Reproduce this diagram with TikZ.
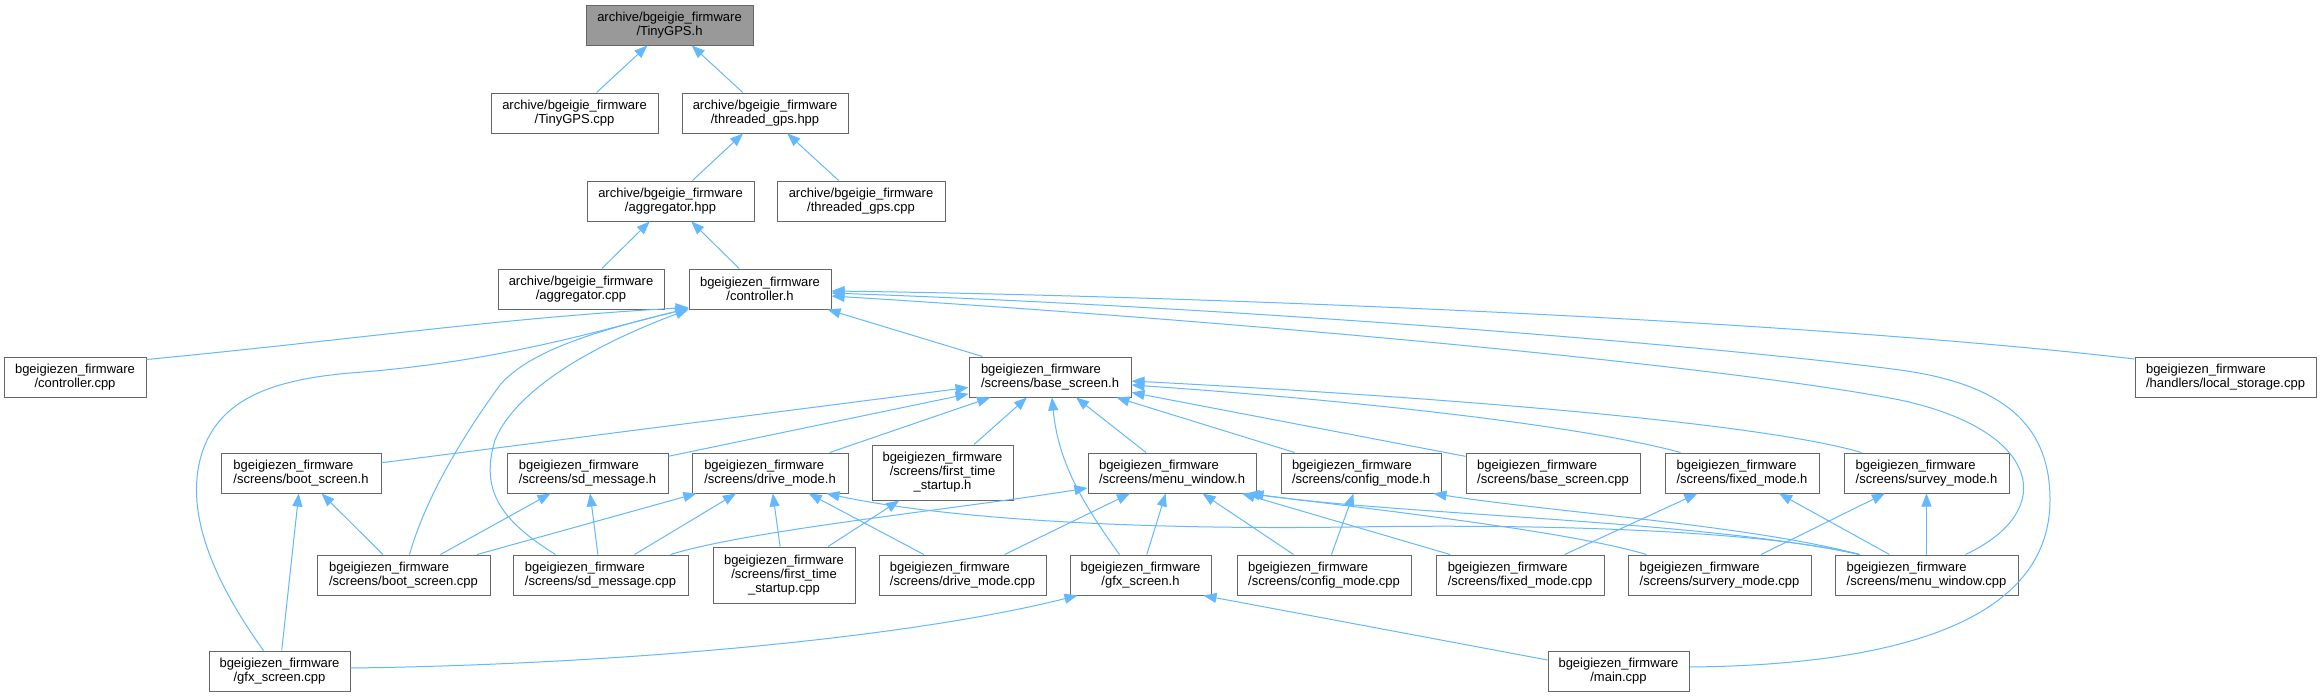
\documentclass[tikz,border=0pt]{standalone}
\usepackage{fontspec}
\setmainfont{Liberation Sans}
\usepackage{tikz}
\usetikzlibrary{arrows.meta}
\usetikzlibrary{calc}

\definecolor{edgeblue}{RGB}{99,184,255}
\definecolor{boxgray}{RGB}{102,102,102}
\definecolor{rootgray}{RGB}{153,153,153}

\begin{document}
\begin{tikzpicture}[x=1pt, y=-1pt,
    filebox/.style={draw=boxgray, line width=1pt, fill=white, inner sep=2pt,
        minimum height=40pt, font=\fontsize{13}{14}\selectfont, align=center},
    leftbox/.style={filebox, align=left},
    rootbox/.style={filebox, fill=rootgray},
    dep/.style={draw=edgeblue, line width=1pt, {Triangle[length=13pt,width=10pt]}-}]

    \fill[white] (0,0) rectangle (2321,696);
    \useasboundingbox (0,0) rectangle (2321,696);

    % archive files
    \node[rootbox, minimum width=167pt] (tinyh) at (669.5,25) {archive/bgeigie\_firmware\\/TinyGPS.h};
    \node[filebox, minimum width=167pt] (tinycpp) at (574.5,113) {archive/bgeigie\_firmware\\/TinyGPS.cpp};
    \node[filebox, minimum width=166pt] (gpshpp) at (765,113) {archive/bgeigie\_firmware\\/threaded\_gps.hpp};
    \node[filebox, minimum width=167pt] (agghpp) at (670.5,201) {archive/bgeigie\_firmware\\/aggregator.hpp};
    \node[filebox, minimum width=168pt] (gpscpp) at (861,201) {archive/bgeigie\_firmware\\/threaded\_gps.cpp};
    \node[filebox, minimum width=166pt] (aggcpp) at (581,289) {archive/bgeigie\_firmware\\/aggregator.cpp};

    % controller level
    \node[filebox, minimum width=142pt] (ctrlh) at (760,289) {bgeigiezen\_firmware\\/controller.h};
    \node[filebox, minimum width=142pt] (ctrlcpp) at (75,377) {bgeigiezen\_firmware\\/controller.cpp};
    \node[leftbox, minimum width=162pt] (baseh) at (1050,377) {bgeigiezen\_firmware\\/screens/base\_screen.h};
    \node[leftbox, minimum width=181pt] (storage) at (2225.5,377) {bgeigiezen\_firmware\\/handlers/local\_storage.cpp};

    % screen headers
    \node[leftbox, minimum width=160pt] (booth) at (301,473) {bgeigiezen\_firmware\\/screens/boot\_screen.h};
    \node[leftbox, minimum width=161pt] (sdh) at (587.5,473) {bgeigiezen\_firmware\\/screens/sd\_message.h};
    \node[leftbox, minimum width=156pt] (driveh) at (770,473) {bgeigiezen\_firmware\\/screens/drive\_mode.h};
    \node[filebox, minimum width=141pt, minimum height=55pt] (firsth) at (942.5,472.5) {bgeigiezen\_firmware\\/screens/first\_time\\\_startup.h};
    \node[leftbox, minimum width=168pt] (menuh) at (1172,473) {bgeigiezen\_firmware\\/screens/menu\_window.h};
    \node[leftbox, minimum width=160pt] (configh) at (1361,473) {bgeigiezen\_firmware\\/screens/config\_mode.h};
    \node[leftbox, minimum width=174pt] (basecpp) at (1553,473) {bgeigiezen\_firmware\\/screens/base\_screen.cpp};
    \node[leftbox, minimum width=154pt] (fixedh) at (1742,473) {bgeigiezen\_firmware\\/screens/fixed\_mode.h};
    \node[leftbox, minimum width=165pt] (surveyh) at (1926.5,473) {bgeigiezen\_firmware\\/screens/survey\_mode.h};

    % screen sources
    \node[leftbox, minimum width=173pt] (bootcpp) at (403.5,575) {bgeigiezen\_firmware\\/screens/boot\_screen.cpp};
    \node[leftbox, minimum width=175pt] (sdcpp) at (600.5,575) {bgeigiezen\_firmware\\/screens/sd\_message.cpp};
    \node[filebox, minimum width=142pt, minimum height=56pt] (firstcpp) at (784,575) {bgeigiezen\_firmware\\/screens/first\_time\\\_startup.cpp};
    \node[leftbox, minimum width=167pt] (drivecpp) at (962.5,575) {bgeigiezen\_firmware\\/screens/drive\_mode.cpp};
    \node[filebox, minimum width=141pt] (gfxh) at (1140.5,575) {bgeigiezen\_firmware\\/gfx\_screen.h};
    \node[leftbox, minimum width=174pt] (configcpp) at (1324,575) {bgeigiezen\_firmware\\/screens/config\_mode.cpp};
    \node[leftbox, minimum width=168pt] (fixedcpp) at (1520,575) {bgeigiezen\_firmware\\/screens/fixed\_mode.cpp};
    \node[leftbox, minimum width=183pt] (surveycpp) at (1719.5,575) {bgeigiezen\_firmware\\/screens/survery\_mode.cpp};
    \node[leftbox, minimum width=183pt] (menucpp) at (1926.5,575) {bgeigiezen\_firmware\\/screens/menu\_window.cpp};

    % bottom row
    \node[filebox, minimum width=141pt] (gfxcpp) at (279.5,671) {bgeigiezen\_firmware\\/gfx\_screen.cpp};
    \node[filebox, minimum width=141pt] (maincpp) at (1618.5,671) {bgeigiezen\_firmware\\/main.cpp};

    % upper part
    \draw[dep] (tinyh) -- (tinycpp);
    \draw[dep] (tinyh) -- (gpshpp);
    \draw[dep] (gpshpp) -- (agghpp);
    \draw[dep] (gpshpp) -- (gpscpp);
    \draw[dep] (agghpp) -- (aggcpp);
    \draw[dep] (agghpp) -- (ctrlh);

    % controller.h
    \draw[dep] (ctrlh) -- (baseh);
    \draw[dep] ($(ctrlh.south west)+(0,-2)$) .. controls (500,318) and (350,340) .. ($(ctrlcpp.north east)+(0,3)$);
    \draw[dep] ($(ctrlh.south west)+(0,-1)$) .. controls (600,330) and (500,362) .. (350,373)
        .. controls (270,380) and (215,400) .. (200,460)
        .. controls (185,520) and (220,590) .. ($(gfxcpp.north)+(-16,0)$);
    \draw[dep] ($(ctrlh.south west)+(0,-1)$) .. controls (600,330) and (530,350) .. (500,385)
        .. controls (460,440) and (425,500) .. ($(bootcpp.north)+(6,0)$);
    \draw[dep] ($(ctrlh.south west)+(0,0)$) .. controls (620,335) and (520,380) .. (495,440)
        .. controls (480,490) and (500,520) .. ($(sdcpp.north)+(-45,0)$);
    \draw[dep] ($(ctrlh.east)+(0,2)$) .. controls (1200,296) and (1800,320) .. ($(storage.west)+(0,-18)$);
    \draw[dep] ($(ctrlh.east)+(0,4)$) .. controls (1300,310) and (1750,350) .. (1900,370)
        .. controls (2010,385) and (2050,430) .. (2050,500)
        .. controls (2050,620) and (1900,665) .. ($(maincpp.east)+(0,-4)$);
    \draw[dep] ($(ctrlh.east)+(0,7)$) .. controls (1300,325) and (1750,370) .. (1900,400)
        .. controls (2040,430) and (2060,510) .. ($(menucpp.north east)+(-53,0)$);

    % base_screen.h
    \draw[dep] (baseh) -- (booth);
    \draw[dep] (baseh) -- (sdh);
    \draw[dep] (baseh) -- (driveh);
    \draw[dep] (baseh) -- (firsth);
    \draw[dep] (baseh) -- (menuh);
    \draw[dep] (baseh) -- (configh);
    \draw[dep] (baseh) -- (basecpp);
    \draw[dep] ($(baseh.south)+(2,0)$) .. controls (1058,460) and (1080,500) .. ($(gfxh.north)+(-21,0)$);
    \draw[dep] ($(baseh.east)+(0,8)$) .. controls (1350,400) and (1580,425) .. ($(fixedh.north west)+(16,0)$);
    \draw[dep] ($(baseh.east)+(0,4)$) .. controls (1400,395) and (1750,420) .. ($(surveyh.north west)+(18,0)$);

    % boot, sd, drive, first time
    \draw[dep] (booth) -- (gfxcpp);
    \draw[dep] (booth) -- (bootcpp);
    \draw[dep] (sdh) -- (bootcpp);
    \draw[dep] (sdh) -- (sdcpp);
    \draw[dep] (driveh) -- (bootcpp);
    \draw[dep] (driveh) -- (sdcpp);
    \draw[dep] (driveh) -- (firstcpp);
    \draw[dep] (driveh) -- (drivecpp);
    \draw[dep] ($(driveh.south east)+(-22,0)$) .. controls (950,520) and (1150,530) .. (1350,527)
        .. controls (1600,523) and (1780,535) .. ($(menucpp.north west)+(25,0)$);
    \draw[dep] (firsth) -- (firstcpp);

    % menu_window.h
    \draw[dep] ($(menuh.west)+(0,15)$) .. controls (950,510) and (750,530) .. ($(sdcpp.north east)+(-18,0)$);
    \draw[dep] (menuh) -- (drivecpp);
    \draw[dep] (menuh) -- (gfxh);
    \draw[dep] (menuh) -- (configcpp);
    \draw[dep] (menuh) -- (fixedcpp);
    \draw[dep] ($(menuh.south east)+(-10,0)$) .. controls (1450,518) and (1580,535) .. ($(surveycpp.north west)+(19,0)$);
    \draw[dep] ($(menuh.south east)+(-6,0)$) .. controls (1400,515) and (1700,520) .. ($(menucpp.north west)+(25,0)$);

    % config, fixed, survey
    \draw[dep] (configh) -- (configcpp);
    \draw[dep] ($(configh.south east)+(-8,0)$) .. controls (1550,512) and (1750,525) .. ($(menucpp.north west)+(25,0)$);
    \draw[dep] (fixedh) -- (fixedcpp);
    \draw[dep] (fixedh) -- (menucpp);
    \draw[dep] (surveyh) -- (surveycpp);
    \draw[dep] (surveyh) -- (menucpp);

    % gfx_screen.h
    \draw[dep] ($(gfxh.south west)+(8,0)$) .. controls (900,640) and (600,665) .. ($(gfxcpp.east)+(0,-3)$);
    \draw[dep] ($(gfxh.south east)+(-8,0)$) -- ($(maincpp.west)+(0,-11)$);

\end{tikzpicture}
\end{document}
